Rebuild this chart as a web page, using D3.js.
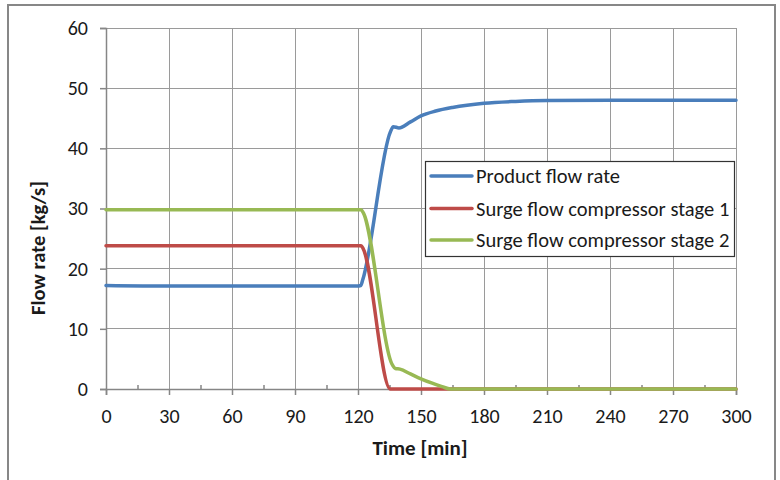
<!DOCTYPE html>
<html>
<head>
<meta charset="utf-8">
<script src="https://cdn.jsdelivr.net/npm/d3@7"></script>
<style>
  html, body { margin: 0; padding: 0; background: #fff; }
  svg { display: block; }
  text { font-family: Carlito, Calibri, Lato, "Open Sans", sans-serif; fill: #1a1a1a; }
</style>
</head>
<body>
<svg id="chart" width="780" height="480"></svg>
<script>
// ---- data ----
const seriesNames = ["Product flow rate", "Surge flow compressor stage 1", "Surge flow compressor stage 2"];
const seriesColors = ["#4A7EBB", "#BE4B48", "#98B954"];

const productTime  = [0, 30, 60, 90, 119.5, 121.3, 122.3, 135.5, 136.8, 139.5, 145, 150, 157, 165, 180, 195, 210, 240, 270, 300];
const productFlow  = [17.2, 17.1, 17.1, 17.1, 17.1, 17.2, 18.2, 42.8, 43.6, 43.4, 44.4, 45.4, 46.2, 46.8, 47.5, 47.8, 47.95, 48.0, 48.0, 48.0];

const surge1Time   = [0, 60, 120, 121.5, 122.5, 135.4, 150, 300];
const surge1Flow   = [23.8, 23.8, 23.8, 23.8, 23.3, 0, 0, 0];

const surge2Time   = [0, 60, 120, 121.5, 122.5, 136.4, 137.8, 140, 145, 150, 155, 160, 164, 200, 300];
const surge2Flow   = [29.8, 29.8, 29.8, 29.8, 29.3, 4.0, 3.4, 3.3, 2.5, 1.7, 1.0, 0.4, 0, 0, 0];

const xTicks = [0, 30, 60, 90, 120, 150, 180, 210, 240, 270, 300];
const xMinorTicks = [15, 45, 75, 105, 135, 165, 195, 225, 255, 285];
const yTicks = [0, 10, 20, 30, 40, 50, 60];
const xTitle = "Time [min]";
const yTitle = "Flow rate [kg/s]";

// ---- layout ----
const svg = d3.select("#chart");
const plot = { left: 106, right: 736, top: 28, bottom: 389 };

svg.append("rect").attr("x", 0).attr("y", 0).attr("width", 780).attr("height", 480).attr("fill", "#fff");
// outer frame
svg.append("rect")
  .attr("x", 8).attr("y", 5).attr("width", 767).attr("height", 520)
  .attr("fill", "none").attr("stroke", "#878787").attr("stroke-width", 2);

const x = d3.scaleLinear().domain([0, 300]).range([plot.left, plot.right]);
const y = d3.scaleLinear().domain([0, 60]).range([plot.bottom, plot.top]);

// gridlines
const grid = svg.append("g").attr("stroke", "#9a9a9a").attr("stroke-width", 1).attr("shape-rendering", "crispEdges");
grid.selectAll("line.v").data(xTicks.filter(d => d > 0)).join("line")
  .attr("x1", d => x(d)).attr("x2", d => x(d)).attr("y1", plot.top).attr("y2", plot.bottom);
grid.selectAll("line.h").data(yTicks.filter(d => d > 0)).join("line")
  .attr("x1", plot.left).attr("x2", plot.right).attr("y1", d => y(d)).attr("y2", d => y(d));

// axes
const yAxis = d3.axisLeft(y).tickValues(yTicks).tickSize(6).tickPadding(12).tickFormat(d3.format("d"));
const gy = svg.append("g").attr("transform", `translate(${plot.left},0)`).call(yAxis);
const xAxis = d3.axisBottom(x).tickValues(xTicks).tickSize(6).tickPadding(14).tickFormat(d3.format("d"));
const gx = svg.append("g").attr("transform", `translate(0,${plot.bottom})`).call(xAxis);
const xMinor = d3.axisBottom(x).tickValues(xMinorTicks).tickSize(-4).tickFormat("");
const gxm = svg.append("g").attr("transform", `translate(0,${plot.bottom})`).call(xMinor);
gxm.select(".domain").remove();

[gx, gy, gxm].forEach(g => {
  g.selectAll(".domain").attr("stroke", "#868686").attr("stroke-width", 1.5);
  g.selectAll(".tick line").attr("stroke", "#868686").attr("stroke-width", 1.5);
  g.selectAll(".tick text").attr("font-size", 20).attr("fill", "#1a1a1a")
    .style("font-family", "Carlito, Calibri, Lato, 'Open Sans', sans-serif");
});

// axis titles
svg.append("text").attr("x", 420).attr("y", 455).attr("text-anchor", "middle")
  .attr("font-size", 21).attr("font-weight", "bold").text(xTitle);
svg.append("text").attr("transform", "translate(45,248) rotate(-90)").attr("text-anchor", "middle")
  .attr("font-size", 20.5).attr("font-weight", "bold").text(yTitle);

// lines
const series = [
  { t: productTime, v: productFlow },
  { t: surge1Time, v: surge1Flow },
  { t: surge2Time, v: surge2Flow }
];
const line = d3.line().x(d => x(d[0])).y(d => y(d[1])).curve(d3.curveMonotoneX);
series.forEach((s, i) => {
  const pts = s.t.map((t, j) => [t, s.v[j]]);
  svg.append("path").datum(pts).attr("d", line)
    .attr("fill", "none").attr("stroke", seriesColors[i]).attr("stroke-width", 3.5)
    .attr("stroke-linejoin", "round").attr("stroke-linecap", "round");
});

// legend
const lg = svg.append("g");
lg.append("rect").attr("x", 425.5).attr("y", 161.5).attr("width", 309).attr("height", 95)
  .attr("fill", "#fff").attr("stroke", "#333").attr("stroke-width", 1.2);
const rowY = [176, 208.5, 240];
seriesNames.forEach((name, i) => {
  lg.append("line").attr("x1", 431).attr("x2", 472).attr("y1", rowY[i]).attr("y2", rowY[i])
    .attr("stroke", seriesColors[i]).attr("stroke-width", 3.5).attr("stroke-linecap", "round");
  lg.append("text").attr("x", 476).attr("y", rowY[i]).attr("dy", "0.35em")
    .attr("font-size", 20.5).text(name);
});
</script>
</body>
</html>
